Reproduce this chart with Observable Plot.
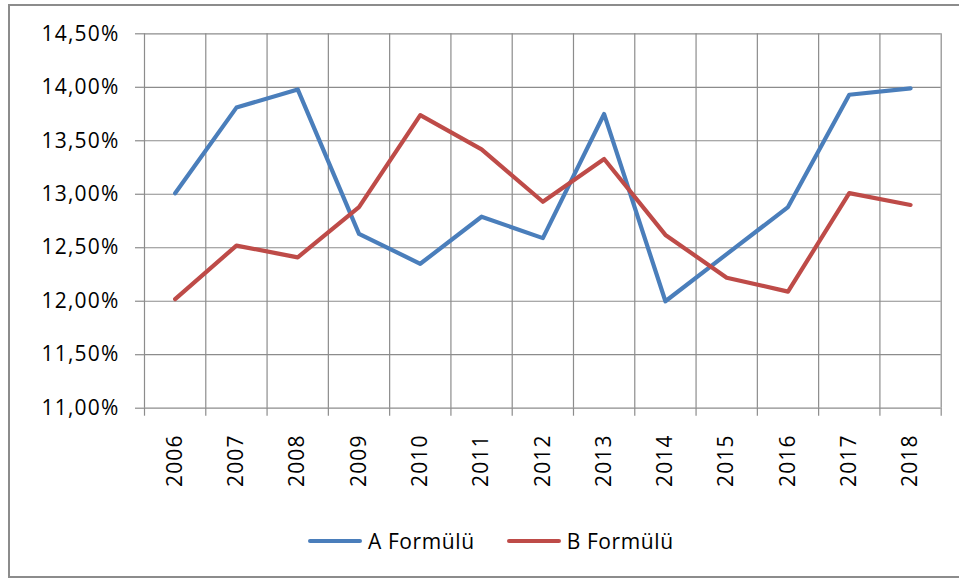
<!DOCTYPE html>
<html>
<head>
<meta charset="utf-8">
<script src="https://cdn.jsdelivr.net/npm/d3@7"></script>
<script src="https://cdn.jsdelivr.net/npm/@observablehq/plot@0.6"></script>
<style>
  html, body { margin: 0; padding: 0; background: #fff; width: 959px; height: 581px; overflow: hidden; }
  #frame { position: absolute; left: 8px; top: 4px; width: 970px; height: 574px; border: 2px solid #8c8c8c; box-sizing: border-box; }
  #chart { position: absolute; left: 0; top: 0; }
  #legend { position: absolute; left: 308px; top: 527px; display: flex; align-items: center;
    font-family: "Open Sans", sans-serif; font-size: 21px; letter-spacing: 0.6px; color: #000; }
  .item { display: flex; align-items: center; margin-right: 32px; }
  .sw { width: 54px; height: 4px; border-radius: 2px; margin-right: 6px; }
</style>
</head>
<body>
<div id="frame"></div>
<div id="chart"></div>
<div id="legend"></div>
<script>
const years = [2006, 2007, 2008, 2009, 2010, 2011, 2012, 2013, 2014, 2015, 2016, 2017, 2018];
const formulaA = [13.01, 13.81, 13.98, 12.63, 12.35, 12.79, 12.59, 13.75, 12.00, 12.44, 12.88, 13.93, 13.99];
const formulaB = [12.02, 12.52, 12.41, 12.88, 13.74, 13.42, 12.93, 13.33, 12.62, 12.22, 12.09, 13.01, 12.90];
const yTicks = [11, 11.5, 12, 12.5, 13, 13.5, 14, 14.5];
const seriesNames = ["A Formülü", "B Formülü"];
const seriesColors = ["#4A7EBB", "#BE4B48"];

const data = [];
years.forEach((yr, i) => {
  data.push({year: yr, value: formulaA[i], series: seriesNames[0]});
  data.push({year: yr, value: formulaB[i], series: seriesNames[1]});
});
const bounds = years.map(y => y - 0.5).concat([years[years.length - 1] + 0.5]);
const fmt = d => d.toFixed(2).replace(".", ",") + "%";
const grid = "#8c8c8c";

const chart = Plot.plot({
  width: 959,
  height: 500,
  marginLeft: 144,
  marginRight: 18.3,
  marginTop: 33.3,
  marginBottom: 92.3,
  x: {type: "linear", domain: [bounds[0], bounds[bounds.length - 1]]},
  y: {domain: [yTicks[0], yTicks[yTicks.length - 1]]},
  color: {domain: seriesNames, range: seriesColors},
  style: {fontFamily: "'Open Sans', sans-serif", fontSize: "21px", color: "#000", background: "transparent", overflow: "visible", letterSpacing: "1.2px"},
  marks: [
    Plot.ruleY(yTicks, {stroke: grid, strokeWidth: 1.2, strokeOpacity: 1}),
    Plot.ruleX(bounds, {stroke: grid, strokeWidth: 1.2, strokeOpacity: 1}),
    Plot.axisX(bounds, {tickSize: 8, tickFormat: () => "", stroke: grid, strokeWidth: 1.2, strokeOpacity: 1, label: null}),
    Plot.axisX(years, {tickSize: 0, tickPadding: 26, rotate: -90, textAnchor: "end", lineAnchor: "middle", tickFormat: d => String(d), label: null, fill: "#000"}),
    Plot.axisY(yTicks, {tickSize: 9, tickPadding: 16, tickFormat: fmt, label: null, stroke: grid, strokeWidth: 1.2, strokeOpacity: 1, fill: "#000"}),
    Plot.line(data, {x: "year", y: "value", z: "series", stroke: "series", strokeWidth: 4.2})
  ]
});
document.getElementById("chart").appendChild(chart);

const legend = document.getElementById("legend");
seriesNames.forEach((name, i) => {
  const item = document.createElement("div");
  item.className = "item";
  const sw = document.createElement("div");
  sw.className = "sw";
  sw.style.background = seriesColors[i];
  const label = document.createElement("span");
  label.textContent = name;
  item.appendChild(sw);
  item.appendChild(label);
  legend.appendChild(item);
});
</script>
</body>
</html>
